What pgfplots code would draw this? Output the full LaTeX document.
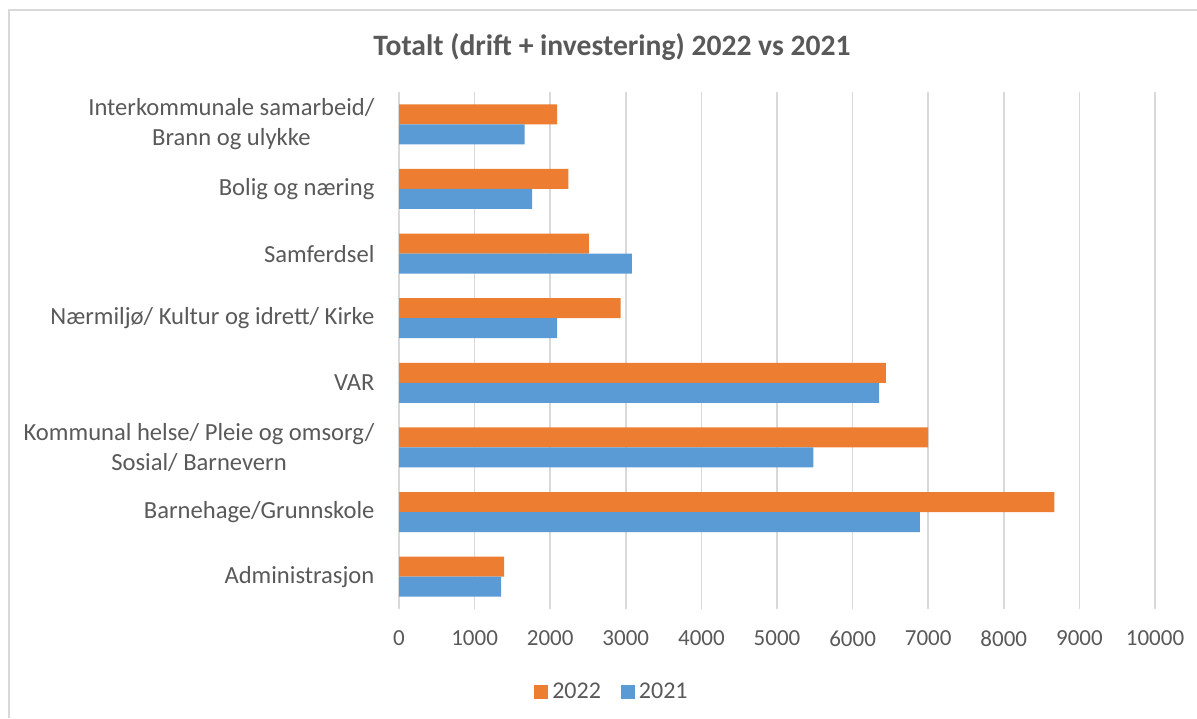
\documentclass[border=0pt]{standalone}
\usepackage{pgfplots}
\pgfplotsset{compat=1.18}
\usepackage{fontspec}
\setmainfont{Carlito}

\definecolor{txtgray}{HTML}{595959}
\definecolor{gridgray}{HTML}{D9D9D9}
\definecolor{c2022}{HTML}{ED7D31}
\definecolor{c2021}{HTML}{5B9BD5}

\begin{document}
\begin{tikzpicture}
    % whole picture: 1197 x 718 px at 0.5pt per px
    \path[use as bounding box] (0,0) rectangle (598.5pt,359pt);
    \draw[gridgray, line width=1pt] (4.5pt,0) -- (4.5pt,354pt) -- (598.5pt,354pt);

    \node[font=\fontsize{14.8}{17}\selectfont\bfseries, text=txtgray] at (306pt,335.5pt)
        {Totalt (drift + investering) 2022 vs 2021};

    \begin{axis}[
        at={(199.5pt,54.5pt)}, anchor=south west,
        scale only axis,
        width  = 378pt,
        height = 258.5pt,
        xbar,
        bar width = 10pt,
        xmin = 0, xmax = 10000,
        ymin = -0.5, ymax = 7.5,
        xtick = {0,1000,...,10000},
        ytick = {0,...,7},
        yticklabels = {
            Administrasjon,
            Barnehage/Grunnskole,
            {Kommunal helse/ Pleie og omsorg/\\Sosial/ Barnevern},
            VAR,
            Nærmiljø/ Kultur og idrett/ Kirke,
            Samferdsel,
            Bolig og næring,
            {Interkommunale samarbeid/\\Brann og ulykke}
        },
        scaled x ticks = false,
        xticklabel style = {
            /pgf/number format/1000 sep={},
            /pgf/number format/assume math mode=true,
            font=\fontsize{11.5}{13}\selectfont, text=txtgray,
            yshift=-7.5pt
        },
        yticklabel style = {
            align=center,
            font=\fontsize{12.3}{15}\selectfont, text=txtgray,
            xshift=-4.5pt
        },
        axis line style = {draw=none},
        tick style = {draw=none},
        xmajorgrids = true,
        grid style = {gridgray, line width=0.75pt},
        legend columns = 2,
        legend style = {
            at={(0.283,-0.1605)}, anchor=center,
            draw=none,
            font=\fontsize{12}{14}\selectfont, text=txtgray,
            /tikz/every even column/.append style={column sep=8pt}
        },
        legend image code/.code={
            \fill[#1] (0pt,-3.5pt) rectangle (7pt,3.5pt);
        },
    ]
        \addplot[draw=none, fill=c2022, bar shift=5pt]
            coordinates {
                (1390,0)
                (8670,1)
                (7000,2)
                (6440,3)
                (2930,4)
                (2510,5)
                (2240,6)
                (2090,7)
        };
        \addplot[draw=none, fill=c2021, bar shift=-5pt]
            coordinates {
                (1350,0)
                (6890,1)
                (5480,2)
                (6350,3)
                (2090,4)
                (3080,5)
                (1760,6)
                (1660,7)
        };

        \legend{2022, 2021}
    \end{axis}
\end{tikzpicture}
\end{document}
